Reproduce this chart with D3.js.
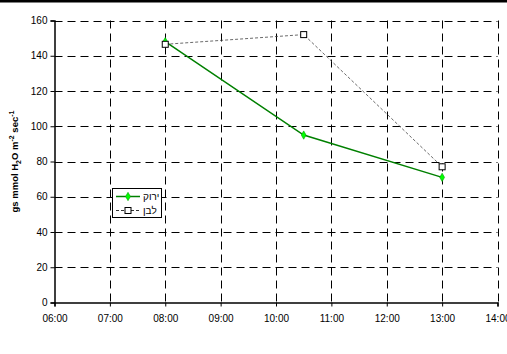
<!DOCTYPE html>
<html><head><meta charset="utf-8">
<script src="https://cdn.jsdelivr.net/npm/d3@7/dist/d3.min.js"></script>
<style>body{margin:0;background:#fff}svg{display:block;font-family:Arial,"Liberation Sans",sans-serif}</style>
</head><body><svg id="c" width="507" height="354"></svg>
<script>
const times = ["08:00","10:30","13:00"];
const greenValues = [148,95,71];
const whiteValues = [146.5,152,77];
const seriesNames = ["ירוק","לבן"];
const yTicks = [0,20,40,60,80,100,120,140,160];
const xDomain = ["06:00","14:00"];

const parse = d3.timeParse("%H:%M");
const fmt = d3.timeFormat("%H:%M");
const svg = d3.select("#c");
const L=54.5, R=497.5, T=20.5, B=302.5;
const x = d3.scaleTime().domain(xDomain.map(parse)).range([L,R]);
const y = d3.scaleLinear().domain([0,160]).range([B,T]);

svg.append("rect").attr("x",0).attr("y",0).attr("width",507).attr("height",2.5).attr("fill","#000");

const xt = x.ticks(d3.timeHour.every(1));
const g = svg.append("g");
g.selectAll(".hg").data(yTicks.filter(d=>d>0)).join("line")
 .attr("x1",L).attr("x2",R).attr("y1",d=>Math.round(y(d))+0.5).attr("y2",d=>Math.round(y(d))+0.5)
 .attr("stroke","#000").attr("stroke-dasharray","8,5").attr("stroke-width",1);
g.selectAll(".vg").data(xt.slice(1)).join("line")
 .attr("y1",T).attr("y2",B).attr("x1",d=>Math.round(x(d))+0.5).attr("x2",d=>Math.round(x(d))+0.5)
 .attr("stroke","#000").attr("stroke-dasharray","8,5").attr("stroke-width",1);

const ya = svg.append("g").attr("transform",`translate(${L},0)`)
 .call(d3.axisLeft(y).tickValues(yTicks).tickSize(4).tickPadding(3));
const xa = svg.append("g").attr("transform",`translate(0,${B})`)
 .call(d3.axisBottom(x).tickValues(xt).tickFormat(fmt).tickSize(4).tickPadding(8));
[ya,xa].forEach(a=>{a.selectAll("text").attr("font-size","10px").attr("fill","#000").attr("font-family","Arial, Liberation Sans");a.select(".domain").attr("stroke","#000").attr("stroke-width",1.5);});

svg.append("text").attr("transform",`translate(18,${(T+B)/2}) rotate(-90)`)
 .attr("text-anchor","middle").attr("font-size","9.5px").attr("font-weight","bold").attr("fill","#000")
 .html('gs mmol H<tspan dy="3" font-size="7px">2</tspan><tspan dy="-3">O m</tspan><tspan dy="-4" font-size="7px">-2</tspan><tspan dy="4"> sec</tspan><tspan dy="-4" font-size="7px">-1</tspan>');

const pts = v => times.map((t,i)=>[x(parse(t)),y(v[i])]);
const line = d3.line();
svg.append("path").attr("d",line(pts(whiteValues))).attr("fill","none").attr("stroke","#444").attr("stroke-width",0.8).attr("stroke-dasharray","3,2");
svg.append("path").attr("d",line(pts(greenValues))).attr("fill","none").attr("stroke","#008000").attr("stroke-width",1.5);
const diamond = d3.symbol().type(d3.symbolDiamond).size(20);
svg.selectAll(".gm").data(pts(greenValues)).join("path").attr("d",diamond)
 .attr("transform",d=>`translate(${d[0]},${d[1]})`).attr("fill","#00ff00").attr("stroke","#00a000").attr("stroke-width",0.6);
svg.selectAll(".wm").data(pts(whiteValues)).join("rect")
 .attr("x",d=>d[0]-3).attr("y",d=>d[1]-3).attr("width",6).attr("height",6)
 .attr("fill","#fff").attr("stroke","#000").attr("stroke-width",1);

const lg = svg.append("g");
lg.append("rect").attr("x",112.5).attr("y",188.5).attr("width",49).attr("height",29).attr("fill","#fff").attr("stroke","#000").attr("stroke-width",1);
lg.append("line").attr("x1",116).attr("x2",140).attr("y1",196.5).attr("y2",196.5).attr("stroke","#008000").attr("stroke-width",1.5);
lg.append("path").attr("d",diamond).attr("transform","translate(128,196.5)").attr("fill","#00ff00").attr("stroke","#00a000").attr("stroke-width",0.6);
lg.append("line").attr("x1",116).attr("x2",140).attr("y1",210.5).attr("y2",210.5).attr("stroke","#000").attr("stroke-width",0.8).attr("stroke-dasharray","3,2");
lg.append("rect").attr("x",125).attr("y",207.5).attr("width",6).attr("height",6).attr("fill","#fff").attr("stroke","#000");
lg.selectAll(".lt").data(seriesNames).join("text").attr("x",143).attr("y",(d,i)=>200+i*14)
 .attr("font-size","10px").attr("fill","#000").attr("font-family","Arial, Liberation Sans, DejaVu Sans").attr("text-anchor","start").text(d=>d);
</script></body></html>
